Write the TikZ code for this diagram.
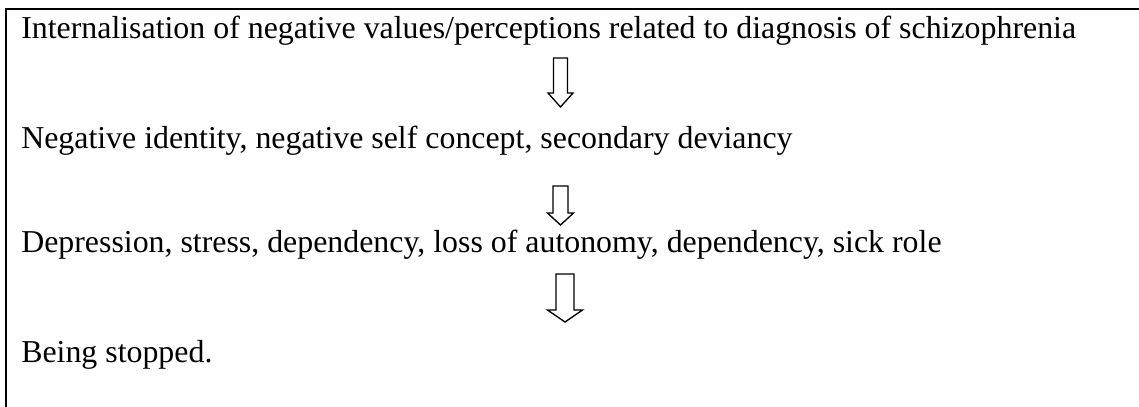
\documentclass[tikz,border=0pt]{standalone}
\usepackage{fontspec}
\setmainfont{Liberation Serif}
\usepackage{tikz}
\usetikzlibrary{positioning,calc}
\tikzset{
  line-text/.style={anchor=base west, inner sep=0pt, font=\fontsize{23.9}{28}\selectfont},
  frame-line/.style={line width=1.8pt, draw=black},
  arrow-outline/.style={line width=1pt, draw=black, fill=white, line join=miter}
}
% hollow down arrow: centre x, top y, head y, tip y, shaft half width, head half width
\newcommand{\hollowarrow}[6]{%
  \draw[arrow-outline] (#1-#5,#2) -- (#1+#5,#2) -- (#1+#5,#3) -- (#1+#6,#3)
    -- (#1,#4) -- (#1-#6,#3) -- (#1-#5,#3) -- cycle;}

\begin{document}
\begin{tikzpicture}[x=0.75pt, y=-0.75pt]
\useasboundingbox (0,0) rectangle (1139,407);
\clip (0,0) rectangle (1139,407);

% frame (cut off at right and bottom)
\coordinate (corner) at (6,9);
\draw[frame-line] (1150,9) -- (corner) -- (6,420);

% the four statements
\node[line-text] (internal) at (21,38) {Internalisation of negative values/perceptions related to diagnosis of schizophrenia};
\node[line-text] (identity) at (21,148) {Negative identity, negative self concept, secondary deviancy};
\node[line-text] (depress) at (21,252) {Depression, stress, dependency, loss of autonomy, dependency, sick role};
\node[line-text] (stopped) at (21,362) {Being stopped.};

% arrows between them
\hollowarrow{560.5}{58}{93}{107}{7}{12.5}
\hollowarrow{560.5}{186}{213}{225}{7.5}{13}
\hollowarrow{565}{274}{310}{322}{9}{17.5}
\end{tikzpicture}
\end{document}
